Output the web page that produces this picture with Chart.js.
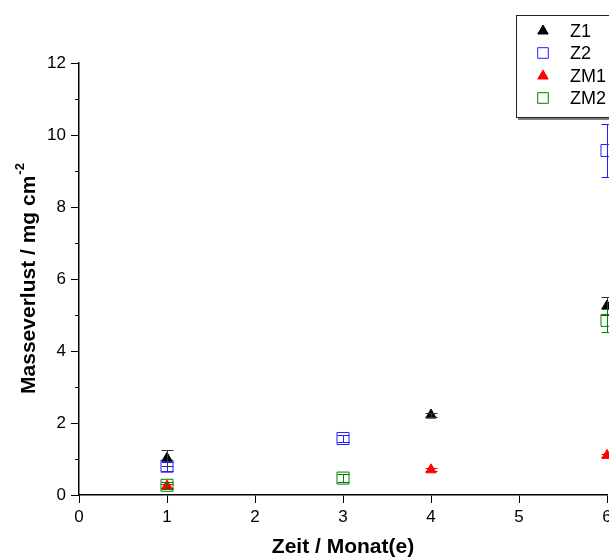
<!DOCTYPE html>
<html>
<head>
<meta charset="utf-8">
<script src="https://cdn.jsdelivr.net/npm/chart.js@4/dist/chart.umd.min.js"></script>
<style>
  html, body { margin: 0; padding: 0; background: #fff; overflow: hidden; }
  #wrap { width: 640px; height: 560px; }
</style>
</head>
<body>
<div id="wrap"><canvas id="myChart" width="640" height="560"></canvas></div>
<script>
// Masseverlust über die Zeit, Mittelwerte mit Standardabweichung
const seriesNames = ['Z1', 'Z2', 'ZM1', 'ZM2'];
const z1Months = [1, 4, 6];
const z1Values = [1.02, 2.22, 5.25];
const z1Errors = [0.22, 0.05, 0.25];
const z2Months = [1, 3, 6];
const z2Values = [0.8, 1.57, 9.57];
const z2Errors = [0.12, 0.1, 0.74];
const zm1Months = [1, 4, 6];
const zm1Values = [0.25, 0.7, 1.1];
const zm1Errors = [0.05, 0.04, 0.05];
const zm2Months = [1, 3, 6];
const zm2Values = [0.27, 0.47, 4.85];
const zm2Errors = [0.1, 0.1, 0.33];
const xTicks = [0, 1, 2, 3, 4, 5, 6];
const yTicks = [0, 2, 4, 6, 8, 10, 12];

const FONT = 'Arial, "Liberation Sans", sans-serif';

function toPoints(xs, ys, errs) {
  return xs.map((x, i) => ({ x: x, y: ys[i], err: errs[i] }));
}

// Fehlerbalken: senkrechte Linie mit Querstrichen
const errorBars = {
  id: 'errorBars',
  afterDatasetsDraw(chart) {
    const ctx = chart.ctx;
    const yScale = chart.scales.y;
    chart.data.datasets.forEach((ds, di) => {
      const meta = chart.getDatasetMeta(di);
      ctx.save();
      ctx.strokeStyle = ds.errorColor;
      ctx.lineWidth = 1;
      meta.data.forEach((pt, i) => {
        const d = ds.data[i];
        const yTop = Math.round(yScale.getPixelForValue(d.y + d.err)) + 0.5;
        const yBot = Math.round(yScale.getPixelForValue(d.y - d.err)) + 0.5;
        const x = Math.round(pt.x) + 0.5;
        const w = 6;
        ctx.beginPath();
        ctx.moveTo(x, yTop); ctx.lineTo(x, yBot);
        ctx.moveTo(x - w, yTop); ctx.lineTo(x + w, yTop);
        ctx.moveTo(x - w, yBot); ctx.lineTo(x + w, yBot);
        ctx.stroke();
      });
      ctx.restore();
    });
  }
};

// kleine Zwischenstriche, y-Achsentitel mit Hochzahl und Legende
const extras = {
  id: 'extras',
  afterDraw(chart) {
    const ctx = chart.ctx;
    const y = chart.scales.y;
    const area = chart.chartArea;
    ctx.save();
    ctx.strokeStyle = '#000';
    ctx.lineWidth = 1;
    for (let v = 1; v < 12; v += 2) {
      const py = Math.round(y.getPixelForValue(v)) + 0.5;
      ctx.beginPath();
      ctx.moveTo(area.left - 4, py);
      ctx.lineTo(area.left, py);
      ctx.stroke();
    }

    // y-Achsentitel
    const cx = 29, cy = (area.top + area.bottom) / 2;
    ctx.translate(cx, cy);
    ctx.rotate(-Math.PI / 2);
    ctx.fillStyle = '#000';
    ctx.textBaseline = 'middle';
    const main = 'Masseverlust / mg cm';
    ctx.font = 'bold 13px ' + FONT;
    const supW = ctx.measureText('-2').width;
    ctx.font = 'bold 21px ' + FONT;
    const mainW = ctx.measureText(main).width;
    const start = -(mainW + supW) / 2;
    ctx.textAlign = 'left';
    ctx.fillText(main, start, 0);
    ctx.font = 'bold 13px ' + FONT;
    ctx.fillText('-2', start + mainW + 1, -9);
    ctx.setTransform(1, 0, 0, 1, 0, 0);

    // Legende
    const lx = 516, ly = 15, lw = 140, lh = 102;
    ctx.fillStyle = '#fff';
    ctx.fillRect(lx, ly, lw, lh);
    ctx.strokeStyle = '#808080';
    ctx.lineWidth = 2;
    ctx.beginPath();
    ctx.moveTo(lx + 2, ly + lh + 2);
    ctx.lineTo(lx + lw, ly + lh + 2);
    ctx.stroke();
    ctx.strokeStyle = '#222';
    ctx.lineWidth = 1;
    ctx.strokeRect(lx + 0.5, ly + 0.5, lw, lh);
    const rowY = [31, 53, 76, 98];
    chart.data.datasets.forEach((ds, i) => {
      ctx.save();
      ctx.strokeStyle = ds.borderColor;
      ctx.fillStyle = ds.backgroundColor;
      ctx.lineWidth = 1;
      Chart.helpers.drawPoint(ctx, {
        pointStyle: ds.pointStyle,
        radius: ds.pointStyle === 'rect' ? 7.5 : 6,
        rotation: 0,
        borderWidth: 1
      }, 543, rowY[i]);
      ctx.restore();
      ctx.fillStyle = '#000';
      ctx.font = '18px ' + FONT;
      ctx.textAlign = 'left';
      ctx.textBaseline = 'middle';
      ctx.fillText(seriesNames[i], 570, rowY[i] + 1);
    });
    ctx.restore();
  }
};

const datasets = [
  { label: seriesNames[0], data: toPoints(z1Months, z1Values, z1Errors),
    pointStyle: 'triangle', pointRadius: 6, backgroundColor: '#000', borderColor: '#000', errorColor: '#333' },
  { label: seriesNames[1], data: toPoints(z2Months, z2Values, z2Errors),
    pointStyle: 'rect', pointRadius: 8.5, backgroundColor: 'rgba(0,0,0,0)', borderColor: '#2020ff', errorColor: '#2020ff' },
  { label: seriesNames[2], data: toPoints(zm1Months, zm1Values, zm1Errors),
    pointStyle: 'triangle', pointRadius: 6, backgroundColor: '#ff0000', borderColor: '#ff0000', errorColor: '#ff0000' },
  { label: seriesNames[3], data: toPoints(zm2Months, zm2Values, zm2Errors),
    pointStyle: 'rect', pointRadius: 8.5, backgroundColor: 'rgba(0,0,0,0)', borderColor: '#008000', errorColor: '#008000' }
].map(ds => Object.assign(ds, { showLine: false, borderWidth: 1, clip: false }));

new Chart(document.getElementById('myChart'), {
  type: 'scatter',
  data: { datasets: datasets },
  options: {
    responsive: false,
    animation: false,
    devicePixelRatio: 1,
    layout: { padding: { top: 63, right: 33, left: 0, bottom: 0 } },
    plugins: { legend: { display: false }, tooltip: { enabled: false } },
    scales: {
      x: {
        type: 'linear', min: 0, max: 6,
        afterBuildTicks: s => { s.ticks = xTicks.map(v => ({ value: v })); },
        afterFit: s => { s.height = 65; },
        ticks: { color: '#000', font: { size: 17, family: FONT }, padding: 4, maxRotation: 0 },
        grid: { drawOnChartArea: false, drawTicks: true, tickLength: 8, color: '#000', lineWidth: 1 },
        border: { display: true, color: '#000', width: 1.5 },
        title: { display: true, text: 'Zeit / Monat(e)', color: '#000',
                 font: { size: 21, weight: 'bold', family: FONT }, padding: { top: 8, bottom: 0 } }
      },
      y: {
        type: 'linear', min: 0, max: 12,
        afterBuildTicks: s => { s.ticks = yTicks.map(v => ({ value: v })); },
        afterFit: s => { s.width = 79; },
        ticks: { color: '#000', font: { size: 17, family: FONT }, padding: 5 },
        grid: { drawOnChartArea: false, drawTicks: true, tickLength: 8, color: '#000', lineWidth: 1 },
        border: { display: true, color: '#000', width: 1.5 }
      }
    }
  },
  plugins: [errorBars, extras]
});
</script>
</body>
</html>
